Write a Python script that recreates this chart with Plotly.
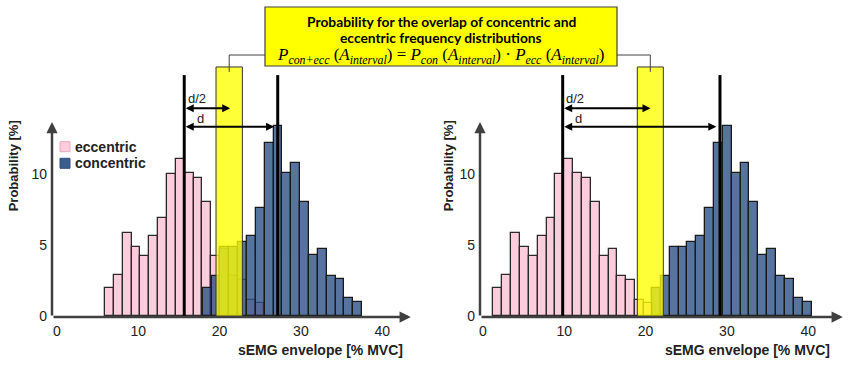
import plotly.graph_objects as go

# ---------------- data ----------------
ecc_prob = [1.96, 2.88, 5.83, 4.84, 4.25, 5.66, 6.88, 9.99, 11.02, 10.08, 9.71, 8.0, 4.25, 4.7, 2.83, 2.55, 1.15, 0.96]
con_prob = [1.96, 2.85, 4.89, 4.89, 5.2, 5.66, 7.57, 12.14, 13.35, 10.08, 10.74, 8.05, 4.3, 4.73, 2.85, 2.6, 1.26, 1.02]
bin_width = 1.09
ecc_first_edge = [5.9, 1.27]      # panel A, panel B
con_first_edge = [17.92, 20.79]
ecc_mean = [15.65, 9.8]
con_mean = [27.15, 29.15]
interval_lo = [19.56, 18.98]
interval_hi = [22.8, 22.18]
half_arrow_tip = [21.3, 20.6]
x_ticks = [0, 10, 20, 30, 40]
y_ticks = [0, 5, 10]
legend_names = ["eccentric", "concentric"]
x_title = "sEMG envelope [% MVC]"
y_title = "Probability [%]"
box_lines = ["Probability for the overlap of concentric and", "eccentric frequency distributions"]

W, H = 850, 366
PINK = "rgb(255,204,221)"
BLUE = "rgba(45,80,135,0.8)"
AX = "#404040"
TXT = "#222222"


def px_x(px):
    return px / W


def px_y(py):
    return 1 - py / H


fig = go.Figure()
xr = [[-0.615, 43.42], [-0.37, 44.16]]
xdom = [[52 / W, 410 / W], [480 / W, 842 / W]]
yr = [-0.3, 22.2]
ydom = [45.4 / H, 1]

shapes, ann = [], []
for p in range(2):
    xa = "x" if p == 0 else "x2"
    ya = "y" if p == 0 else "y2"
    ex = [ecc_first_edge[p] + (i + 0.5) * bin_width for i in range(len(ecc_prob))]
    cx = [con_first_edge[p] + (i + 0.5) * bin_width for i in range(len(con_prob))]
    fig.add_trace(go.Bar(x=ex, y=ecc_prob, width=bin_width, xaxis=xa, yaxis=ya,
                         marker=dict(color=PINK, line=dict(color="#2a2a2a", width=1.3)),
                         showlegend=False, name=legend_names[0]))
    fig.add_trace(go.Bar(x=cx, y=con_prob, width=bin_width, xaxis=xa, yaxis=ya,
                         marker=dict(color=BLUE, line=dict(color="#1a1a1a", width=1.3)),
                         showlegend=False, name=legend_names[1]))
    # yellow interval band
    shapes.append(dict(type="rect", xref=xa, yref=ya, x0=interval_lo[p], x1=interval_hi[p], y0=0, y1=17.5,
                       fillcolor="rgba(255,255,0,0.78)", line=dict(color="#333", width=1), layer="above"))
    # mean lines
    for m in (ecc_mean[p], con_mean[p]):
        shapes.append(dict(type="line", xref=xa, yref=ya, x0=m, x1=m, y0=-0.12, y1=16.93,
                           line=dict(color="black", width=3), layer="above"))
    # connector from band to box
    bc = (interval_lo[p] + interval_hi[p]) / 2
    edge = 25.58 if p == 0 else 16.48
    shapes.append(dict(type="path", xref=xa, yref=ya,
                       path=f"M{bc},17.16 L{bc},18.34 L{edge},18.34",
                       line=dict(color=AX, width=1), layer="above"))
    # axis arrows
    x0 = xr[p][0]
    ann.append(dict(xref=xa, yref=ya, axref=xa, ayref=ya, x=x0, y=13.63, ax=x0, ay=-0.05,
                    showarrow=True, arrowhead=2, arrowsize=0.9, arrowwidth=2.5, arrowcolor=AX, text=""))
    ann.append(dict(xref=xa, yref=ya, axref=xa, ayref=ya, x=xr[p][1] + 0.1, y=-0.05, ax=x0, ay=-0.05,
                    showarrow=True, arrowhead=2, arrowsize=0.9, arrowwidth=2.5, arrowcolor=AX, text=""))
    # d/2 and d arrows
    ann.append(dict(xref=xa, yref=ya, axref=xa, ayref=ya, x=half_arrow_tip[p], y=14.6, ax=ecc_mean[p], ay=14.6,
                    showarrow=True, arrowhead=2, startarrowhead=2, arrowside="end+start",
                    arrowsize=0.8, startarrowsize=0.8, arrowwidth=2, arrowcolor="black", text=""))
    ann.append(dict(xref=xa, yref=ya, axref=xa, ayref=ya, x=con_mean[p] - 0.45, y=13.3, ax=ecc_mean[p], ay=13.3,
                    showarrow=True, arrowhead=2, startarrowhead=2, arrowside="end+start",
                    arrowsize=0.8, startarrowsize=0.8, arrowwidth=2, arrowcolor="black", text=""))
    ann.append(dict(xref=xa, yref=ya, x=ecc_mean[p] + 1.55, y=15.3, text="d/2", showarrow=False,
                    font=dict(size=13, color=TXT)))
    ann.append(dict(xref=xa, yref=ya, x=ecc_mean[p] + 1.95, y=13.9, text="d", showarrow=False,
                    font=dict(size=13, color=TXT)))
    # axis titles
    xt_right = 405 if p == 0 else 832
    ann.append(dict(xref="paper", yref="paper", x=px_x(xt_right), y=px_y(350), xanchor="right", yanchor="middle",
                    text=f"<b>{x_title}</b>", showarrow=False, font=dict(size=14, color=TXT)))
    yt_x = 13.3 if p == 0 else 448.3
    ann.append(dict(xref="paper", yref="paper", x=px_x(yt_x), y=px_y(166), xanchor="center", yanchor="middle",
                    text=f"<b>{y_title}</b>", textangle=-90, showarrow=False, font=dict(size=13, color=TXT)))

# legend (panel A)
for i, (nm, col, lc) in enumerate([(legend_names[0], PINK, "#e6a9bd"), (legend_names[1], "rgb(60,92,140)", "#2f4f7f")]):
    yc = 146.7 + i * 16.6
    shapes.append(dict(type="rect", xref="paper", yref="paper", x0=px_x(60), x1=px_x(70),
                       y0=px_y(yc + 5), y1=px_y(yc - 5), fillcolor=col, line=dict(color=lc, width=1)))
    ann.append(dict(xref="paper", yref="paper", x=px_x(72.5), y=px_y(yc), xanchor="left", yanchor="middle",
                    text=f"<b>{nm}</b>", showarrow=False, font=dict(size=14, color=TXT)))

# top box
shapes.append(dict(type="rect", xref="paper", yref="paper", x0=px_x(265), x1=px_x(617), y0=px_y(66), y1=px_y(7),
                   fillcolor="#FFFF00", line=dict(color=AX, width=1.2), layer="above"))
for yy, t in zip([21.7, 37.3], box_lines):
    ann.append(dict(xref="paper", yref="paper", x=px_x(441), y=px_y(yy), xanchor="center", yanchor="middle",
                    text=f"<b>{t}</b>", showarrow=False, font=dict(size=13.8, color="black", family="Lato")))
formula = ("<i>P</i><sub><i>con+ecc</i></sub> (<i>A</i><sub><i>interval</i></sub>) = "
           "<i>P</i><sub><i>con</i></sub> (<i>A</i><sub><i>interval</i></sub>) · "
           "<i>P</i><sub><i>ecc</i></sub> (<i>A</i><sub><i>interval</i></sub>)")
ann.append(dict(xref="paper", yref="paper", x=px_x(440), y=px_y(55.5), xanchor="center", yanchor="middle",
                text=formula, showarrow=False, font=dict(size=17, color="black", family="Liberation Serif")))

axis_common = dict(showgrid=False, zeroline=False, showline=False, ticks="",
                   tickfont=dict(size=14, color=TXT), fixedrange=True, automargin=False)
fig.update_layout(
    width=W, height=H, margin=dict(l=0, r=0, t=0, b=0),
    paper_bgcolor="white", plot_bgcolor="white", barmode="overlay", bargap=0,
    font=dict(family="Liberation Sans, Arial", color=TXT),
    xaxis=dict(domain=xdom[0], range=xr[0], tickvals=x_ticks, anchor="y", **axis_common),
    xaxis2=dict(domain=xdom[1], range=xr[1], tickvals=x_ticks, anchor="y2", **axis_common),
    yaxis=dict(domain=ydom, range=yr, tickvals=y_ticks, anchor="x", ticklabelstandoff=4, **axis_common),
    yaxis2=dict(domain=ydom, range=yr, tickvals=y_ticks, anchor="x2", ticklabelstandoff=4, **axis_common),
    shapes=shapes, annotations=ann, showlegend=False,
)
fig.write_html("out.html", config={"displayModeBar": False},
               post_script="document.body.style.margin='0px';")
